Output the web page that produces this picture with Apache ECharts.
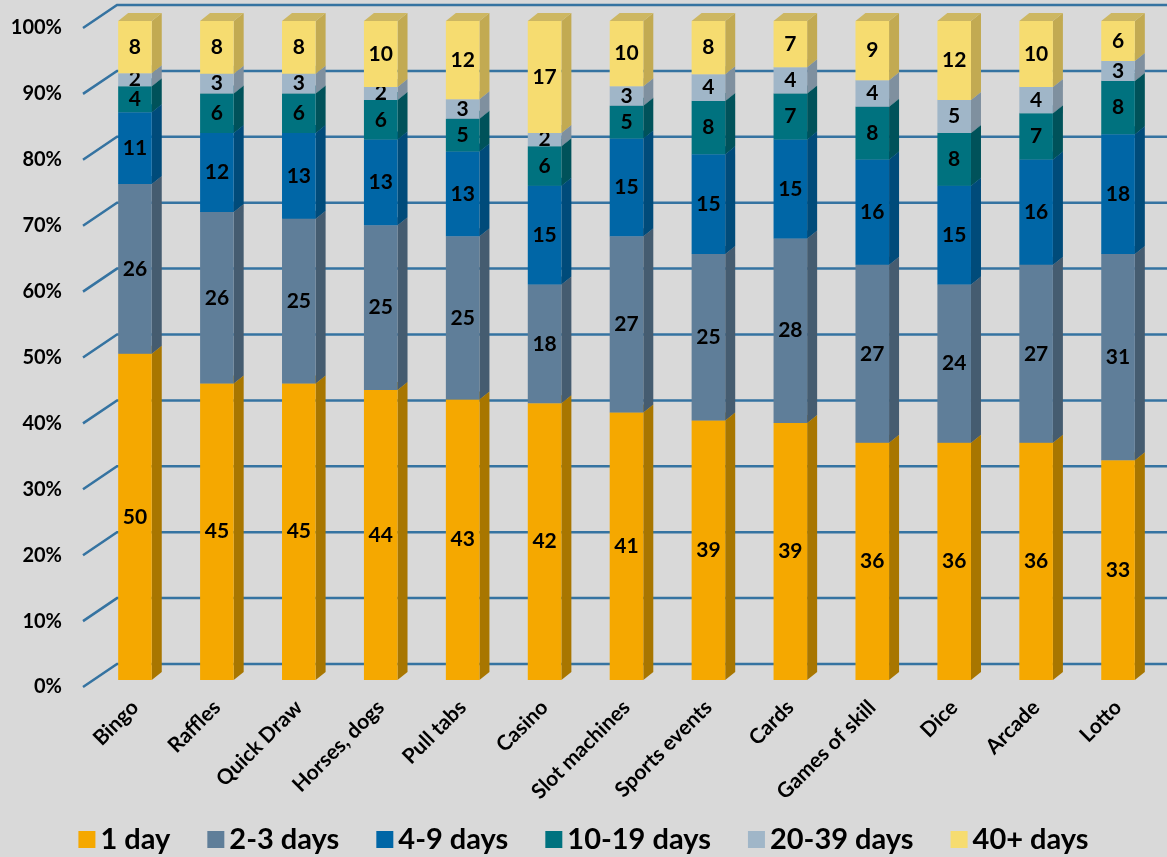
<!DOCTYPE html>
<html>
<head>
<meta charset="utf-8">
<script src="https://cdn.jsdelivr.net/npm/echarts@6/dist/echarts.min.js"></script>
<style>
  html, body { margin: 0; padding: 0; background: #d9d9d9; }
  #chart { width: 1167px; height: 857px; }
</style>
</head>
<body>
<div id="chart"></div>
<script>
const categories = ['Bingo', 'Raffles', 'Quick Draw', 'Horses, dogs', 'Pull tabs', 'Casino',
  'Slot machines', 'Sports events', 'Cards', 'Games of skill', 'Dice', 'Arcade', 'Lotto']
const seriesNames = ['1 day', '2-3 days', '4-9 days', '10-19 days', '20-39 days', '40+ days']
const day1 = [50, 45, 45, 44, 43, 42, 41, 39, 39, 36, 36, 36, 33]
const days2to3 = [26, 26, 25, 25, 25, 18, 27, 25, 28, 27, 24, 27, 31]
const days4to9 = [11, 12, 13, 13, 13, 15, 15, 15, 15, 16, 15, 16, 18]
const days10to19 = [4, 6, 6, 6, 5, 6, 5, 8, 7, 8, 8, 7, 8]
const days20to39 = [2, 3, 3, 2, 3, 2, 3, 4, 4, 4, 5, 4, 3]
const days40plus = [8, 8, 8, 10, 12, 17, 10, 8, 7, 9, 12, 10, 6]
const yTicks = [0, 10, 20, 30, 40, 50, 60, 70, 80, 90, 100]

const values = [day1, days2to3, days4to9, days10to19, days20to39, days40plus]
const frontColors = ['#f5a800', '#5f7e99', '#0066a6', '#00727f', '#a0b6c8', '#f6dc70']
const sideColors = ['#a87600', '#455c70', '#004b7a', '#00525a', '#7f909f', '#c2aa52']
const topColors = ['#c98b00', '#50697f', '#00578c', '#005f69', '#8da2b2', '#cdb762']
const DX = 10
const DY = -8
const FONT = 'Lato, "Open Sans", sans-serif'

// 100% stacked: heights are shares of each category total
const totals = categories.map((_, i) => values.reduce((s, v) => s + v[i], 0))
const stacked = []
const cum = categories.map(() => 0)
values.forEach((arr) => {
  stacked.push(arr.map((v, i) => {
    const start = cum[i] / totals[i] * 100
    cum[i] += v
    return [i, start, cum[i] / totals[i] * 100, v]
  }))
})

function renderBar(k) {
  return function (params, api) {
    const i = api.value(0)
    const pb = api.coord([i, api.value(1)])
    const pt = api.coord([i, api.value(2)])
    const w = api.size([1, 0])[0] * 0.41
    const x0 = pb[0] - w / 2
    const x1 = x0 + w
    const yb = pb[1]
    const yt = pt[1]
    return {
      type: 'group',
      children: [
        { type: 'polygon', shape: { points: [[x1, yb], [x1 + DX, yb + DY], [x1 + DX, yt + DY], [x1, yt]] },
          style: { fill: sideColors[k] } },
        { type: 'polygon', shape: { points: [[x0, yt], [x1, yt], [x1 + DX, yt + DY], [x0 + DX, yt + DY]] },
          style: { fill: topColors[k] } },
        { type: 'rect', shape: { x: x0, y: yt, width: w, height: yb - yt },
          style: { fill: frontColors[k] } },
        { type: 'text', x: pb[0], y: (yb + yt) / 2,
          style: { text: String(api.value(3)), fill: '#000', font: 'bold 21px ' + FONT,
            align: 'center', verticalAlign: 'middle' } }
      ]
    }
  }
}

const chart = echarts.init(document.getElementById('chart'))
chart.setOption({
  backgroundColor: '#d9d9d9',
  animation: false,
  grid: [
    { left: 94, right: 8, top: 21, bottom: 177 },
    // front plane, only carries the percent labels
    { left: 94, right: 8, top: 28, bottom: 170 }
  ],
  legend: {
    bottom: -2,
    left: 'center',
    icon: 'rect',
    itemWidth: 17,
    itemHeight: 17,
    itemGap: 37,
    data: seriesNames,
    textStyle: { fontFamily: FONT, fontWeight: 'bold', fontSize: 29, color: '#000' }
  },
  xAxis: [
    {
      type: 'category',
      data: categories,
      axisLine: { show: false },
      axisTick: { show: false },
      axisLabel: {
        interval: 0,
        rotate: 45,
        margin: 24,
        fontFamily: FONT,
        fontWeight: 'bold',
        fontSize: 21,
        color: '#000'
      }
    },
    { type: 'category', gridIndex: 1, data: categories, show: false }
  ],
  yAxis: [
    {
      type: 'value',
      min: 0,
      max: 100,
      interval: 10,
      show: false
    },
    {
      type: 'value',
      gridIndex: 1,
      min: 0,
      max: 100,
      interval: 10,
      splitLine: { show: false },
      axisLine: { show: false },
      axisTick: { show: false },
      axisLabel: {
        formatter: '{value}%',
        margin: 32,
        fontFamily: FONT,
        fontWeight: 'bold',
        fontSize: 20,
        color: '#000'
      }
    }
  ],
  series: [
    {
      type: 'custom',
      name: 'grid',
      silent: true,
      z: 1,
      data: yTicks.map(v => [0, v]),
      renderItem: (params, api) => {
        const y = api.coord([0, api.value(1)])[1]
        return {
          type: 'polyline',
          shape: { points: [[83, y + 7], [117, y - 16], [1167, y - 16]] },
          style: { stroke: '#3573a1', lineWidth: 2.5, fill: null }
        }
      }
    },
    ...seriesNames.map((name, k) => ({
      type: 'custom',
      name: name,
      z: 2 + k,
      itemStyle: { color: frontColors[k] },
      data: stacked[k],
      renderItem: renderBar(k)
    }))
  ]
})
</script>
</body>
</html>
